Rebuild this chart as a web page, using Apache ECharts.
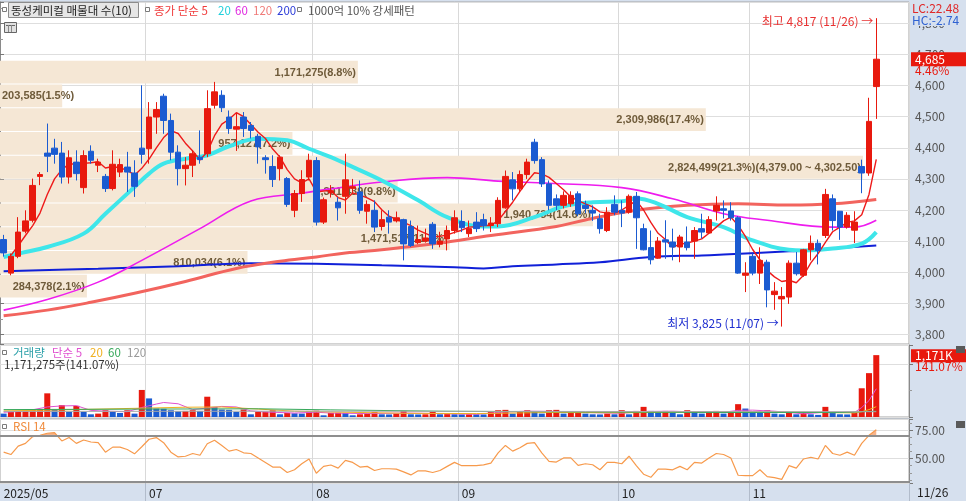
<!DOCTYPE html>
<html>
<head>
<meta charset="utf-8">
<script src="https://cdn.jsdelivr.net/npm/echarts@6.0.0/dist/echarts.min.js"></script>
<style>
html,body{margin:0;padding:0;background:#fff;}
#chart{width:966px;height:501px;}
</style>
</head>
<body>
<div id="chart"></div>
<script>
// ---------------- DATA ----------------
const firstYear = '2025';
const dates = [
'05/30',
'06/02','06/04','06/05','06/09','06/10','06/11','06/12','06/13','06/16','06/17','06/18','06/19','06/20','06/23','06/24','06/25','06/26','06/27','06/30',
'07/01','07/02','07/03','07/04','07/07','07/08','07/09','07/10','07/11','07/14','07/15','07/16','07/17','07/18','07/21','07/22','07/23','07/24','07/25','07/28','07/29','07/30','07/31',
'08/01','08/04','08/05','08/06','08/07','08/08','08/11','08/12','08/13','08/14','08/18','08/19','08/20','08/21','08/22','08/25','08/26','08/27','08/28','08/29',
'09/01','09/02','09/03','09/04','09/05','09/08','09/09','09/10','09/11','09/12','09/15','09/16','09/17','09/18','09/19','09/22','09/23','09/24','09/25','09/26','09/29','09/30',
'10/01','10/02','10/10','10/13','10/14','10/15','10/16','10/17','10/20','10/21','10/22','10/23','10/24','10/27','10/28','10/29','10/30','10/31',
'11/03','11/04','11/05','11/06','11/07','11/10','11/11','11/12','11/13','11/14','11/17','11/18','11/19','11/20','11/21','11/24','11/25','11/26'
];
const opens = [
4105,3997,4051,4132,4167,4308,4383,4399,4383,4306,
4354,4272,4389,4344,4308,4269,4322,4338,4319,4399,
4397,4499,4566,4488,4386,4333,4344,4370,4381,4537,
4569,4499,4460,4499,4472,4437,4368,4340,4333,4301,
4199,4253,4306,4359,4161,4255,4225,4244,4270,4258,
4196,4199,4147,4177,4165,4169,4147,4095,4100,4154,
4090,4107,4134,4163,4124,4161,4169,4150,4156,4207,
4297,4268,4314,4418,4362,4284,4236,4215,4220,4252,
4215,4199,4172,4134,4218,4199,4193,4244,4140,4079,
4045,4104,4097,4081,4097,4100,4140,4126,4197,4204,
4197,4175,3990,4051,3997,4032,3928,3914,3920,4029,
3990,4072,4093,4118,4236,4196,4145,4135,4340,4319,
4597];
const closes = [
4062,4051,4129,4165,4279,4314,4373,4379,4306,4368,
4317,4375,4360,4354,4269,4347,4346,4322,4276,4379,
4499,4523,4488,4386,4333,4344,4381,4362,4526,4580,
4529,4462,4468,4462,4456,4403,4362,4298,4370,4218,
4253,4298,4360,4161,4233,4262,4207,4297,4275,4199,
4218,4145,4169,4161,4175,4091,4086,4105,4110,4091,
4100,4134,4175,4143,4140,4140,4150,4158,4231,4308,
4268,4314,4354,4359,4284,4215,4215,4247,4247,4188,
4205,4190,4140,4193,4193,4190,4244,4175,4072,4040,
4100,4097,4081,4113,4079,4134,4129,4169,4215,4199,
4175,3997,3997,3997,4038,3943,3939,3922,4029,3995,
4072,4093,4070,4250,4166,4145,4183,4161,4319,4485,
4685];
const highs = [
4120,4060,4177,4199,4301,4322,4478,4429,4419,4392,
4392,4392,4408,4365,4316,4392,4365,4387,4360,4601,
4547,4547,4574,4510,4408,4370,4392,4456,4585,4612,
4585,4520,4510,4515,4483,4445,4376,4376,4376,4306,
4264,4328,4381,4370,4240,4280,4241,4381,4300,4295,
4231,4231,4199,4199,4195,4172,4166,4150,4140,4161,
4130,4150,4199,4199,4166,4193,4188,4177,4241,4327,
4322,4327,4365,4429,4370,4295,4250,4260,4260,4260,
4230,4215,4188,4209,4247,4231,4250,4258,4156,4134,
4113,4167,4140,4120,4147,4145,4188,4180,4244,4231,
4225,4180,4032,4060,4080,4040,3968,3952,4038,4065,
4075,4118,4105,4268,4250,4196,4193,4196,4362,4561,
4817];
const lows = [
4050,3990,4045,4125,4160,4280,4322,4349,4285,4285,
4295,4253,4349,4322,4258,4263,4306,4258,4242,4349,
4349,4445,4445,4360,4279,4279,4306,4349,4370,4526,
4515,4445,4390,4435,4430,4349,4317,4274,4295,4210,
4177,4226,4295,4150,4155,4240,4166,4188,4255,4188,
4156,4129,4134,4124,4160,4038,4081,4090,4095,4075,
4080,4070,4124,4129,4113,4129,4134,4129,4145,4204,
4231,4258,4300,4349,4274,4199,4200,4205,4210,4180,
4190,4165,4124,4129,4183,4145,4188,4075,4070,4025,
4043,4043,4038,4032,4070,4043,4108,4123,4166,4173,
4166,3995,3936,3990,3962,3887,3879,3825,3898,3989,
3985,4038,4025,4110,4134,4104,4140,4094,4254,4310,
4493];
const volumes = [
64000,96000,100000,110000,141000,145000,448000,141000,224000,96000,
211000,96000,51000,64000,128000,96000,77000,128000,64000,512000,
352000,160000,155000,128000,109000,115000,128000,115000,384000,192000,
141000,135000,96000,141000,51000,96000,100000,128000,51000,77000,
70000,64000,115000,120000,32000,77000,80000,75000,32000,51000,
64000,96000,51000,48000,64000,115000,51000,48000,51000,96000,
51000,55000,51000,48000,51000,50000,48000,96000,128000,135000,
64000,96000,128000,96000,64000,128000,135000,64000,77000,80000,
64000,51000,48000,64000,51000,128000,51000,115000,192000,115000,
77000,115000,77000,51000,128000,96000,64000,96000,115000,64000,
96000,243000,160000,96000,77000,128000,64000,51000,77000,51000,
77000,51000,40000,192000,77000,51000,48000,77000,544000,830272,
1171275];
const rsi14 = [
55.7,53.6,61.0,63.4,69.4,70.5,72.3,72.9,65.5,68.5,
63.4,66.4,64.6,64.0,55.7,60.1,60.1,58.0,54.2,60.4,
67.0,68.5,64.0,55.7,51.5,52.1,54.5,53.0,63.1,66.1,
61.6,56.6,58.0,55.1,54.5,50.6,46.7,42.6,42.6,37.8,
40.2,45.5,49.7,37.2,43.2,44.4,41.7,48.5,46.7,42.6,
43.2,39.6,41.1,41.1,40.8,38.4,35.7,39.3,39.3,37.8,
39.6,43.2,46.7,43.8,43.8,43.8,44.5,46.1,55.0,61.6,
56.6,59.5,63.4,64.0,55.1,47.6,47.0,50.6,50.6,44.1,
45.5,44.6,40.2,46.7,46.7,45.5,52.1,43.8,36.3,33.6,
40.8,40.8,40.2,43.2,40.2,46.7,46.1,50.6,54.5,53.6,
50.6,35.4,35.1,35.1,40.2,34.2,33.3,31.8,43.8,41.7,
49.7,51.2,49.7,61.6,54.5,53.0,55.7,53.0,63.4,70.5,
75.3];
const rsiSignal = [70, 30];
// moving averages: [candle index, value]
const ma5 = [[1,4054],[2,4085],[3,4118],[4,4150],[5,4190],[6,4250],[7,4300],[8,4330],[9,4348],[10,4348],[11,4350],[12,4352],[13,4355],[14,4335],[15,4340],[16,4335],[17,4328],[18,4312],[19,4334],[20,4364],[21,4400],[22,4433],[23,4455],[24,4446],[25,4415],[26,4390],[27,4361],[28,4387],[29,4439],[30,4476],[31,4492],[32,4513],[33,4500],[34,4475],[35,4450],[36,4430],[37,4396],[38,4370],[39,4330],[40,4300],[41,4287],[42,4300],[43,4258],[44,4261],[45,4263],[46,4240],[47,4232],[48,4255],[49,4248],[50,4239],[51,4227],[52,4201],[53,4180],[54,4170],[55,4160],[56,4150],[57,4135],[58,4125],[59,4115],[60,4115],[61,4120],[62,4128],[63,4135],[64,4145],[65,4146],[66,4150],[67,4150],[68,4166],[69,4195],[70,4225],[71,4260],[72,4292],[73,4320],[74,4316],[75,4305],[76,4285],[77,4265],[78,4242],[79,4230],[80,4220],[81,4210],[82,4194],[83,4190],[84,4190],[85,4200],[86,4215],[87,4230],[88,4200],[89,4160],[90,4125],[91,4105],[92,4080],[93,4090],[94,4094],[95,4100],[96,4107],[97,4125],[98,4145],[99,4165],[100,4177],[101,4151],[102,4115],[103,4073],[104,4040],[105,4005],[106,3985],[107,3970],[108,3974],[109,3966],[110,3990],[111,4030],[112,4060],[113,4096],[114,4130],[115,4145],[116,4160],[117,4165],[118,4185],[119,4250],[120,4363]];
const ma20 = [[0,4049],[2,4060],[6,4081],[11,4124],[14,4188],[18,4274],[20,4317],[22,4349],[25,4365],[28,4376],[31,4405],[35,4429],[39,4424],[42,4397],[45,4370],[47,4349],[52,4295],[57,4231],[61,4177],[66,4147],[68,4147],[73,4177],[77,4212],[81,4225],[85,4228],[87,4237],[90,4220],[94,4177],[99,4145],[103,4102],[108,4072],[110,4070],[114,4076],[118,4092],[120,4129]];
const ma60 = [[0,3878],[6,3912],[13,3968],[19,4038],[27,4140],[34,4229],[41,4254],[45,4268],[52,4290],[61,4304],[68,4293],[75,4286],[85,4272],[92,4236],[99,4188],[105,4167],[114,4145],[117,4145],[120,4167]];
const ma120 = [[0,3860],[6,3878],[12,3903],[18,3932],[25,3970],[32,4012],[38,4035],[43,4049],[47,4062],[52,4072],[55,4080],[61,4097],[67,4118],[76,4147],[80,4168],[87,4199],[94,4215],[101,4220],[108,4216],[114,4220],[120,4234]];
const ma200 = [[0,4003],[13,4011],[24,4019],[34,4029],[43,4027],[52,4022],[62,4016],[66,4012],[70,4019],[76,4025],[82,4032],[89,4049],[96,4054],[99,4057],[108,4067],[110,4070],[120,4086]];
const volMa5 = [[0,90000],[3,110000],[6,190000],[8,210000],[10,215000],[12,125000],[14,110000],[17,100000],[19,180000],[21,245000],[22,275000],[24,250000],[26,140000],[28,170000],[30,200000],[32,190000],[34,115000],[36,95000],[38,85000],[40,75000],[43,90000],[45,75000],[50,65000],[55,75000],[60,65000],[65,52000],[69,95000],[72,110000],[76,105000],[80,85000],[85,70000],[88,105000],[92,110000],[95,95000],[99,90000],[101,125000],[103,130000],[106,110000],[110,60000],[113,90000],[116,90000],[117,85000],[118,180000],[119,310000],[120,535000]];
const volMa20 = [[0,115000],[10,140000],[20,170000],[25,185000],[30,190000],[35,150000],[40,110000],[45,95000],[55,70000],[65,65000],[75,85000],[85,80000],[95,95000],[105,100000],[112,85000],[117,78000],[118,100000],[119,140000],[120,195000]];
const volMa60 = [[0,140000],[20,150000],[35,155000],[45,135000],[60,110000],[80,95000],[100,85000],[115,85000],[120,110000]];
const volMa120 = [[0,105000],[40,110000],[80,105000],[120,100000]];
// volume profile (매물대, 10 bands)
const bandLow  = [4608.5,4532,4455.5,4379,4302.5,4226,4149.5,4073,3996.5,3920];
const bandHigh = [4685,4608.5,4532,4455.5,4379,4302.5,4226,4149.5,4073,3996.5];
const bandVolume = [1171275,203585,2309986,957127,2824499,1301439,1940734,1471517,810034,284378];
const bandPct = [8.8,1.5,17.4,7.2,21.3,9.8,14.6,11.1,6.1,2.1];

// ---------------- STYLE ----------------
const RED = '#e8190e', BLUE = '#1b5bd1';
const KF = '"Noto Sans CJK KR","Noto Sans",sans-serif';
const BAND = '#f5e7d5';
const PANEL = '#d6e0ee';
const blanks = ['', '', '', ''];
const cats = dates.concat(blanks);
const monthStart = new Set();
for (let i = 5; i < dates.length; i++) {
  if (dates[i].slice(0, 2) !== dates[i - 1].slice(0, 2)) monthStart.add(i);
}
function fmtInt(n) { return Math.round(n).toLocaleString('en-US'); }
function fmt2(n) { return n.toLocaleString('en-US', {minimumFractionDigits: 2, maximumFractionDigits: 2}); }
const bandFont = 'bold 11px "Liberation Sans", Arial, sans-serif';
const mctx = document.createElement('canvas').getContext('2d');
mctx.font = bandFont;
const maxBand = bandVolume.indexOf(Math.max.apply(null, bandVolume));
const profileMax = 2975000;

const gridBase = {left: 0, right: 57, show: true, backgroundColor: '#fff', borderColor: '#a4a4a4', borderWidth: 1, outerBoundsMode: 'none'};
const splitX = {show: true, interval: (i) => monthStart.has(i), lineStyle: {color: '#d9d9d9', width: 1}};
function catAxis(gi, extra) {
  return Object.assign({
    type: 'category', gridIndex: gi, data: cats, boundaryGap: true,
    axisLine: {show: false}, axisTick: {show: false}, axisLabel: {show: false},
    splitLine: splitX
  }, extra || {});
}
function line(data, color, width, smooth, xi, yi, z) {
  return {type: 'line', data: data, xAxisIndex: xi, yAxisIndex: yi, showSymbol: false, symbol: 'none',
    smooth: smooth, lineStyle: {color: color, width: width}, z: z || 2, silent: true, animation: false};
}

const chart = echarts.init(document.getElementById('chart'), null, {renderer: 'canvas'});
const option = {
  animation: false,
  backgroundColor: PANEL,
  textStyle: {fontFamily: KF},
  grid: [
    Object.assign({top: 2, height: 342}, gridBase),
    Object.assign({top: 345, height: 72}, gridBase),
    Object.assign({top: 419, height: 64}, gridBase)
  ],
  xAxis: [
    catAxis(0),
    {type: 'value', gridIndex: 0, min: 0, max: profileMax, show: false, position: 'top'},
    catAxis(1),
    catAxis(2, {
      axisLabel: {show: true, interval: (i) => i === 0 || monthStart.has(i), align: 'left', margin: 4,
        color: '#222', fontSize: 12, fontFamily: KF,
        formatter: (v, i) => i === 0 ? firstYear + '/' + v.slice(0, 2) : v.slice(0, 2)},
      axisTick: {show: true, interval: (i) => monthStart.has(i), length: 18, lineStyle: {color: '#b2bccb'}}
    })
  ],
  yAxis: [
    {type: 'value', gridIndex: 0, position: 'right', min: 3769, max: 4869, minInterval: 100, maxInterval: 100,
      axisLine: {show: true, lineStyle: {color: '#8a8a8a'}},
      axisTick: {show: true, length: 4, lineStyle: {color: '#777'}},
      minorTick: {show: true, splitNumber: 2, length: 3, lineStyle: {color: '#999'}},
      axisLabel: {color: '#555', fontSize: 12, margin: 6, showMinLabel: false, showMaxLabel: false, formatter: (v) => fmtInt(v)},
      splitLine: {show: true, lineStyle: {color: '#dedede'}}},
    {type: 'value', gridIndex: 1, position: 'right', min: 0, max: 1363000, minInterval: 1000000, maxInterval: 1000000,
      axisLine: {show: true, lineStyle: {color: '#8a8a8a'}},
      axisTick: {show: true, length: 4, lineStyle: {color: '#777'}},
      minorTick: {show: true, splitNumber: 2, length: 3, lineStyle: {color: '#999'}},
      axisLabel: {show: false},
      splitLine: {show: true, lineStyle: {color: '#dedede'}}},
    {type: 'value', gridIndex: 2, position: 'right', min: 28.6, max: 84.8, minInterval: 25, maxInterval: 25,
      axisLine: {show: true, lineStyle: {color: '#8a8a8a'}},
      axisTick: {show: true, length: 4, lineStyle: {color: '#777'}},
      minorTick: {show: true, splitNumber: 4, length: 3, lineStyle: {color: '#999'}},
      axisLabel: {color: '#555', fontSize: 12, margin: 6, showMinLabel: false, showMaxLabel: false, formatter: (v) => v.toFixed(2)},
      splitLine: {show: true, lineStyle: {color: '#dedede'}}}
  ],
  series: [
    { // 0 volume profile bands
      type: 'custom', xAxisIndex: 1, yAxisIndex: 0, z: 1, silent: true,
      data: bandLow.map((lo, k) => [lo, bandHigh[k], bandVolume[k], bandPct[k]]),
      encode: {x: 2, y: [0, 1]},
      renderItem: function (params, api) {
        const k = params.dataIndex;
        const lo = api.value(0), hi = api.value(1), v = api.value(2), pct = api.value(3);
        const pTop = api.coord([0, hi]);
        const pBot = api.coord([v, lo]);
        const y0 = pTop[1] + 1.5, y1 = pBot[1] + 0.5;
        let txt = fmtInt(v) + '(' + pct.toFixed(1) + '%)';
        if (k === maxBand) txt += '(' + fmt2(hi) + ' ~ ' + fmt2(lo) + ')';
        const tw = mctx.measureText(txt).width;
        const tx = Math.max(pBot[0] - 2, 2 + tw);
        return {type: 'group', children: [
          {type: 'rect', shape: {x: pTop[0], y: y0, width: pBot[0] - pTop[0], height: y1 - y0}, style: {fill: BAND}},
          {type: 'text', style: {text: txt, x: tx, y: (y0 + y1) / 2 + 0.5, align: 'right', verticalAlign: 'middle', font: bandFont, fill: '#6f5b3a'}}
        ]};
      }
    },
    line(ma200, '#1020d8', 2, 0.4, 0, 0),          // 1
    line(ma120, '#f2645e', 3, 0.4, 0, 0),          // 2
    line(ma60, '#ee1cee', 1.6, 0.4, 0, 0),         // 3
    line(ma20, '#3ee6ea', 4, 0.4, 0, 0),           // 4
    line(ma5, '#ee1a1a', 1.4, false, 0, 0),        // 5
    { // 6 candles
      type: 'candlestick', xAxisIndex: 0, yAxisIndex: 0, z: 3, barWidth: 6, silent: true,
      data: opens.map((o, i) => [o, closes[i], lows[i], highs[i]]),
      itemStyle: {color: RED, color0: BLUE, borderColor: RED, borderColor0: BLUE, borderWidth: 1}
    },
    { // 7 volume
      type: 'bar', xAxisIndex: 2, yAxisIndex: 1, barWidth: 6, silent: true,
      data: volumes.map((v, i) => ({value: v, itemStyle: {color: (i > 0 && v > volumes[i - 1]) ? RED : BLUE}}))
    },
    line(volMa5, '#e050d0', 1, false, 2, 1, 3),     // 8
    line(volMa20, '#f0b020', 1, false, 2, 1, 3),    // 9
    line(volMa60, '#36a85a', 1, false, 2, 1, 3),    // 10
    line(volMa120, '#a8a8a8', 1, false, 2, 1, 3),   // 11
    { // 12 RSI overbought fill (area between RSI and the 70 line, above it)
      type: 'custom', xAxisIndex: 3, yAxisIndex: 2, z: 1, silent: true, clip: true,
      data: [[0, rsiSignal[0]]],
      renderItem: function (params, api) {
        const base = api.coord([0, rsiSignal[0]])[1];
        const pts = rsi14.map((r, i) => api.coord([i, r]));
        const first = pts[0], lastP = pts[pts.length - 1];
        const poly = [[first[0], base]].concat(pts).concat([[lastP[0], base]]);
        const cs = params.coordSys;
        return {type: 'polygon', shape: {points: poly}, style: {fill: '#f6b48c'},
          clipPath: {type: 'rect', shape: {x: cs.x, y: cs.y, width: cs.width, height: base - cs.y}}};
      }
    },
    { // 13 RSI line
      type: 'line', xAxisIndex: 3, yAxisIndex: 2, data: rsi14, showSymbol: false, symbol: 'none',
      lineStyle: {color: '#f79a4c', width: 1.2}, z: 3, silent: true,
      markLine: {symbol: 'none', silent: true, label: {show: false}, animation: false,
        lineStyle: {color: '#8e8e8e', width: 2, type: 'solid'},
        data: rsiSignal.map((v) => ({yAxis: v}))}
    }
  ]
};
chart.setOption(option);

// ---------------- overlay texts positioned through the chart's scales ----------------
const last = closes.length - 1;
const hiIdx = highs.indexOf(Math.max.apply(null, highs));
const loIdx = lows.indexOf(Math.min.apply(null, lows));
const pHi = chart.convertToPixel({seriesIndex: 6}, [hiIdx, highs[hiIdx]]);
const pLo = chart.convertToPixel({seriesIndex: 6}, [loIdx, lows[loIdx]]);
const yP = chart.convertToPixel({yAxisIndex: 0}, closes[last]);
const yV = chart.convertToPixel({yAxisIndex: 1}, volumes[last]);
const chg = ((closes[last] / closes[last - 1] - 1) * 100).toFixed(2);
const lc = ((closes[last] - lows[loIdx]) / lows[loIdx] * 100).toFixed(2);
const hc = ((closes[last] - highs[hiIdx]) / highs[hiIdx] * 100).toFixed(2);
const vr = (volumes[last] / volumes[last - 1] * 100).toFixed(2);

function T(text, x, y, fill, size, extra) {
  return {type: 'text', z: 100, silent: true,
    style: Object.assign({text: text, x: x, y: y, fill: fill, font: (size || 12) + 'px ' + KF, verticalAlign: 'middle'}, extra || {})};
}
function sq(x, y) {
  return {type: 'rect', z: 100, silent: true, shape: {x: x, y: y, width: 4, height: 4}, style: {fill: '#fff', stroke: '#7a7a7a', lineWidth: 1}};
}
const g = [
  // top legend
  sq(2.5, 7.5),
  {type: 'rect', z: 99, silent: true, shape: {x: 8.5, y: 2.5, width: 130, height: 15}, style: {fill: '#e6e6e6', stroke: '#8c8c8c', lineWidth: 1}},
  T('동성케미컬 매물대 수(10)', 11, 10.5, '#222', 11.5),
  sq(145.5, 7.5),
  T('종가 단순 5', 154, 10.5, '#f03a3a', 11.5),
  T('20', 218, 10.5, '#1fd0dc', 11.5),
  T('60', 235, 10.5, '#e028e0', 11.5),
  T('120', 253, 10.5, '#f07a78', 11.5),
  T('200', 277, 10.5, '#2b3bd8', 11.5),
  sq(297.5, 7.5),
  T('1000억 10% 강세패턴', 308, 10.5, '#555', 11.5),
  {type: 'rect', z: 100, silent: true, shape: {x: 4.5, y: 22.5, width: 12, height: 10}, style: {fill: '#e0e0e0', stroke: '#666', lineWidth: 1}},
  {type: 'polyline', z: 101, silent: true, shape: {points: [[6, 25.5], [15, 25.5]]}, style: {stroke: '#666', lineWidth: 1}},
  {type: 'polyline', z: 101, silent: true, shape: {points: [[8.5, 25], [8.5, 32]]}, style: {stroke: '#888', lineWidth: 1}},
  {type: 'polyline', z: 101, silent: true, shape: {points: [[11.5, 25], [11.5, 32]]}, style: {stroke: '#888', lineWidth: 1}},
  // annotations
  T('최고 ' + fmtInt(highs[hiIdx]) + ' (' + dates[hiIdx] + ') →', pHi[0] - 3, pHi[1] + 3.5, '#e83232', 12, {align: 'right'}),
  T('최저 ' + fmtInt(lows[loIdx]) + ' (' + dates[loIdx] + ') →', pLo[0] - 3, pLo[1] - 3.5, '#2030d0', 12, {align: 'right'}),
  // right panel
  T('LC:' + lc, 912, 8, '#e02828', 12),
  T('HC:' + hc, 912, 20, '#2f62d2', 12, {backgroundColor: PANEL, padding: [0, 6, 0, 0]}),
  {type: 'rect', z: 100, silent: true, shape: {x: 911, y: yP - 7, width: 55, height: 14}, style: {fill: RED}},
  T(fmtInt(closes[last]), 915, yP, '#fff', 12),
  T(chg + '%', 915, yP + 11.5, RED, 12),
  {type: 'rect', z: 100, silent: true, shape: {x: 911, y: yV - 6, width: 55, height: 13}, style: {fill: RED}},
  T(fmtInt(volumes[last] / 1000) + 'K', 915, yV, '#fff', 12),
  T(vr + '%', 915, yV + 11, RED, 12),
  {type: 'rect', z: 100, silent: true, shape: {x: 956, y: 346, width: 9, height: 7}, style: {fill: '#5a5a5a'}},
  {type: 'rect', z: 100, silent: true, shape: {x: 956, y: 421, width: 9, height: 7}, style: {fill: '#5a5a5a'}},
  T(dates[last], 917, 492.5, '#222', 12),
  // volume legend
  sq(2.5, 350.5),
  T('거래량', 13, 353, '#2a9fa8', 11.5),
  T('단순 5', 52, 353, '#e050d0', 11.5),
  T('20', 90, 353, '#f0b020', 11.5),
  T('60', 108, 353, '#36a85a', 11.5),
  T('120', 127, 353, '#999', 11.5),
  T(fmtInt(volumes[last]) + '주(' + vr + '%)', 4, 365, '#333', 11.5),
  // RSI legend
  sq(2.5, 424.5),
  T('RSI 14', 13, 427, '#f08a3a', 11.5)
];
chart.setOption({graphic: g});
</script>
</body>
</html>
